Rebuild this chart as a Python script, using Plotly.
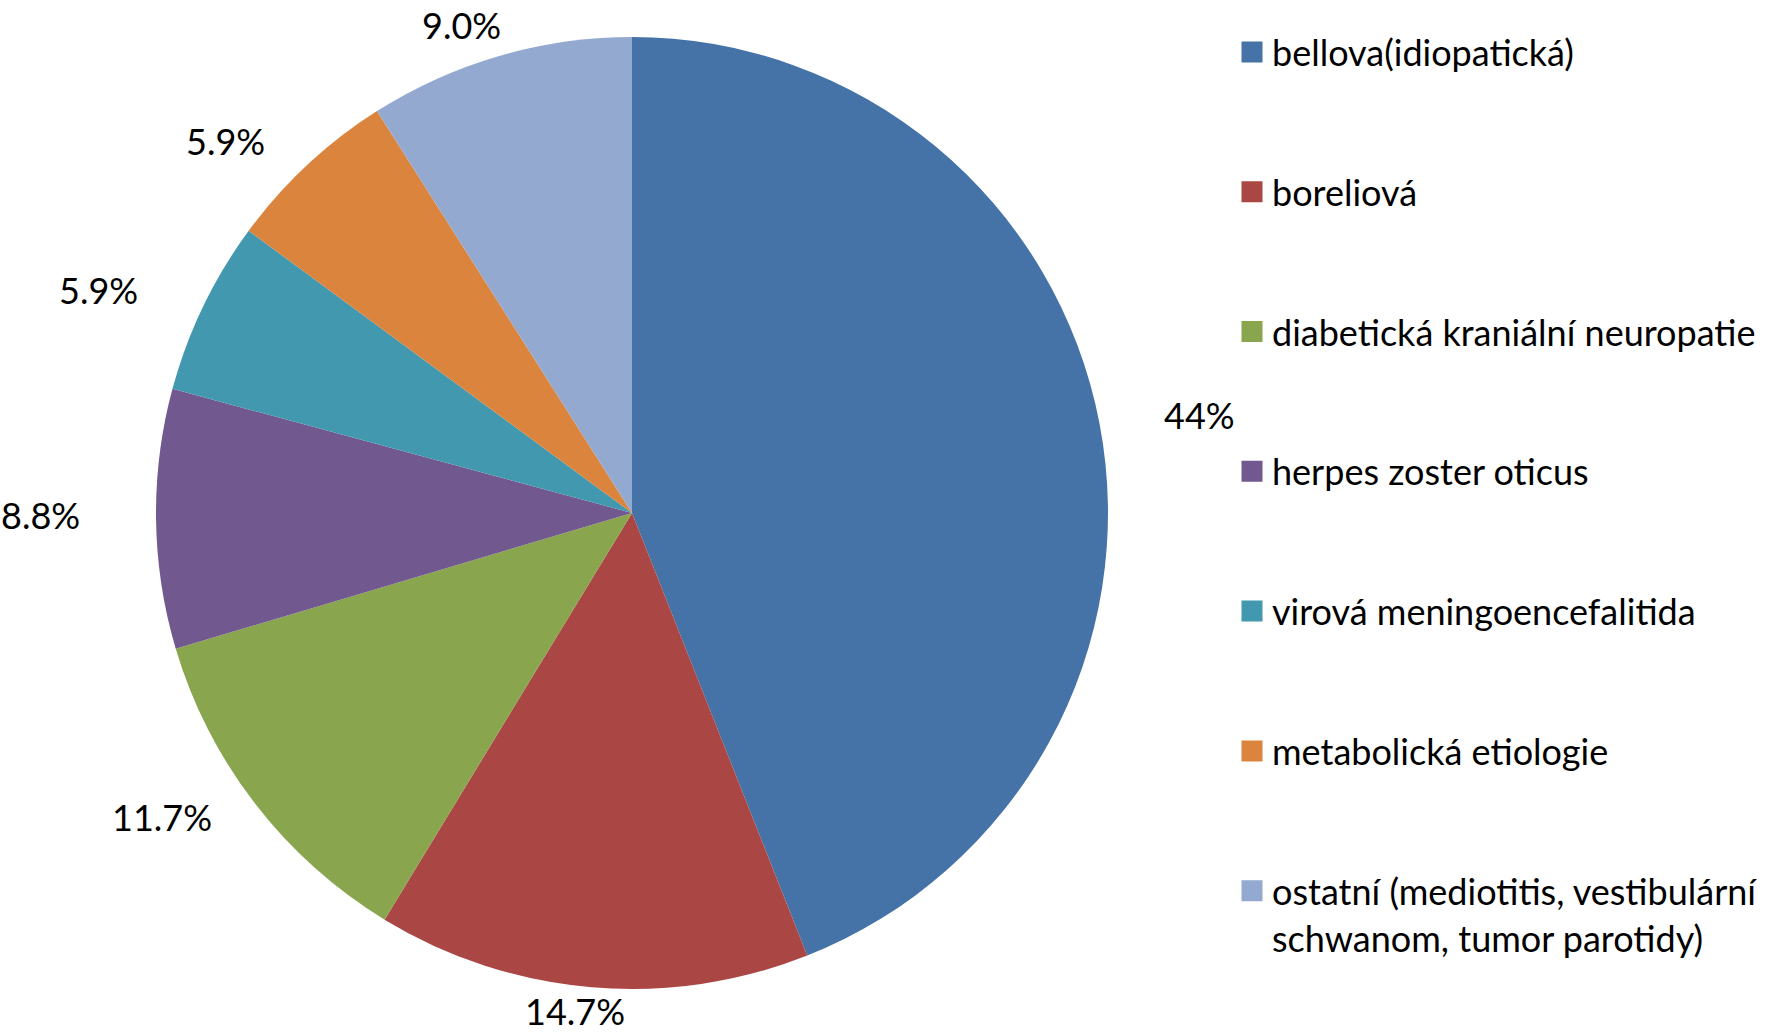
import math
import plotly.graph_objects as go

W, H = 1772, 1034

categories = [
    "bellova(idiopatická)",
    "boreliová",
    "diabetická kraniální neuropatie",
    "herpes zoster oticus",
    "virová meningoencefalitida",
    "metabolická etiologie",
    "ostatní (mediotitis, vestibulární<br>schwanom, tumor parotidy)",
]
values = [44.0, 14.7, 11.7, 8.8, 5.9, 5.9, 9.0]
pct_labels = ["44%", "14.7%", "11.7%", "8.8%", "5.9%", "5.9%", "9.0%"]
colors = ["#4572A7", "#AA4643", "#89A54E", "#71588F", "#4198AF", "#DB843D", "#93A9CF"]

FONT = "Lato, Open Sans, sans-serif"
TXT = "#000000"

# pie geometry (pixels)
cx, cy, r = 632, 513, 476
fig = go.Figure()
fig.add_trace(go.Pie(
    labels=categories, values=values, sort=False, direction="clockwise",
    rotation=0, marker=dict(colors=colors, line=dict(width=0)),
    textinfo="none", showlegend=False, hoverinfo="label+percent",
    domain=dict(x=[(cx - r) / W, (cx + r) / W], y=[1 - (cy + r) / H, 1 - (cy - r) / H]),
))

# outside percentage labels at slice mid-angles
LCX, LCY, RX, RY = 625, 509, 585, 504
total = sum(values)
cum = 0.0
for v, lab in zip(values, pct_labels):
    mid = (cum + v / 2) / total
    cum += v
    th = 2 * math.pi * mid
    px = LCX + RX * math.sin(th)
    py = LCY - RY * math.cos(th)
    fig.add_annotation(x=px / W, y=1 - py / H, xref="paper", yref="paper",
                       text=lab, showarrow=False, xanchor="center", yanchor="middle",
                       font=dict(family=FONT, size=36, color=TXT))

# legend entries
for i, (name, c) in enumerate(zip(categories, colors)):
    fig.add_trace(go.Scatter(
        x=[None], y=[None], mode="markers", name=name, legendgroup=f"g{i}",
        marker=dict(symbol="square", size=16, color=c, line=dict(width=5, color=c)),
    ))

fig.update_layout(
    width=W, height=H,
    margin=dict(l=0, r=0, t=0, b=0),
    paper_bgcolor="white", plot_bgcolor="white",
    xaxis=dict(visible=False), yaxis=dict(visible=False),
    showlegend=True,
    legend=dict(x=(1257 - 25) / W, xanchor="left", y=1 - 22 / H, yanchor="top",
                font=dict(family=FONT, size=36, color=TXT),
                tracegroupgap=90, valign="top", bgcolor="rgba(0,0,0,0)",
                itemclick=False, itemdoubleclick=False),
)

fig.write_html("out.html")
